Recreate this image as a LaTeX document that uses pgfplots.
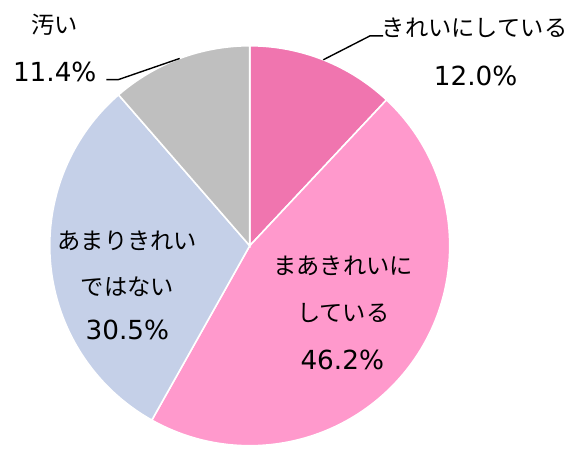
\documentclass[border=0pt]{standalone}
\usepackage{pgfplots}
\pgfplotsset{compat=1.18}
\usepackage{pgfplotstable}
\usetikzlibrary{calc}
\usepackage{fontspec}
\setmainfont{DejaVu Sans}
\newfontfamily\jp{Noto Sans CJK JP}

\definecolor{clean}{HTML}{F075AF}
\definecolor{fair}{HTML}{FF99CC}
\definecolor{notclean}{HTML}{C5D0E8}
\definecolor{dirty}{HTML}{BFBFBF}

% shares in percent, clockwise from 12 o'clock
\pgfplotstableread{
share
12.0
46.2
30.5
11.4
}\sharetable

\pgfplotstablegetelem{0}{share}\of\sharetable \let\sA\pgfplotsretval
\pgfplotstablegetelem{1}{share}\of\sharetable \let\sB\pgfplotsretval
\pgfplotstablegetelem{2}{share}\of\sharetable \let\sC\pgfplotsretval
\pgfplotstablegetelem{3}{share}\of\sharetable \let\sD\pgfplotsretval
\pgfmathsetmacro\total{\sA+\sB+\sC+\sD}
\pgfmathsetmacro\k{360/\total}
\pgfmathsetmacro\aA{90-\k*\sA}
\pgfmathsetmacro\aB{\aA-\k*\sB}
\pgfmathsetmacro\aC{\aB-\k*\sC}
\pgfmathsetmacro\mA{(90+\aA)/2}
\pgfmathsetmacro\mD{(\aC-270)/2}

\newcommand{\jpf}{\jp\fontsize{11.7}{13}\selectfont}
\newcommand{\numf}{\fontsize{13.2}{15}\selectfont}

\begin{document}
\begin{tikzpicture}
\begin{axis}[hide axis, scale only axis, width=287pt, height=224.5pt,
  xmin=0, xmax=574, ymin=0, ymax=449, clip=false]
\def\R{100.5pt}
\fill[clean, draw=white, line width=0.8pt] (axis cs:251,202) -- ++(90:\R)
  arc[start angle=90, end angle=\aA, radius=\R] -- cycle;
\fill[fair, draw=white, line width=0.8pt] (axis cs:251,202) -- ++(\aA:\R)
  arc[start angle=\aA, end angle=\aB, radius=\R] -- cycle;
\fill[notclean, draw=white, line width=0.8pt] (axis cs:251,202) -- ++(\aB:\R)
  arc[start angle=\aB, end angle=\aC, radius=\R] -- cycle;
\fill[dirty, draw=white, line width=0.8pt] (axis cs:251,202) -- ++(\aC:\R)
  arc[start angle=\aC, end angle=-270, radius=\R] -- cycle;

% leader lines
\draw[line width=0.7pt] (axis cs:385,413) -- (axis cs:372,413) -- ($(axis cs:251,202)+(\mA:\R)$);
\draw[line width=0.7pt] (axis cs:107,369) -- (axis cs:119,369) -- ($(axis cs:251,202)+(\mD:\R)$);

% labels
\node[font=\jpf] at (axis cs:477,421) {きれいにしている};
\node[font=\numf] at (axis cs:478,373) {12.0\%};
\node[font=\jpf] at (axis cs:345,182) {まあきれいに};
\node[font=\jpf] at (axis cs:345,134) {している};
\node[font=\numf] at (axis cs:344,87) {46.2\%};
\node[font=\jpf] at (axis cs:128,207) {あまりきれい};
\node[font=\jpf] at (axis cs:128,161) {ではない};
\node[font=\numf] at (axis cs:128,117) {30.5\%};
\node[font=\jpf] at (axis cs:55,424) {汚い};
\node[font=\numf] at (axis cs:55,377) {11.4\%};
\end{axis}
\path (0,0) rectangle (287pt,224.5pt);
\end{tikzpicture}
\end{document}
